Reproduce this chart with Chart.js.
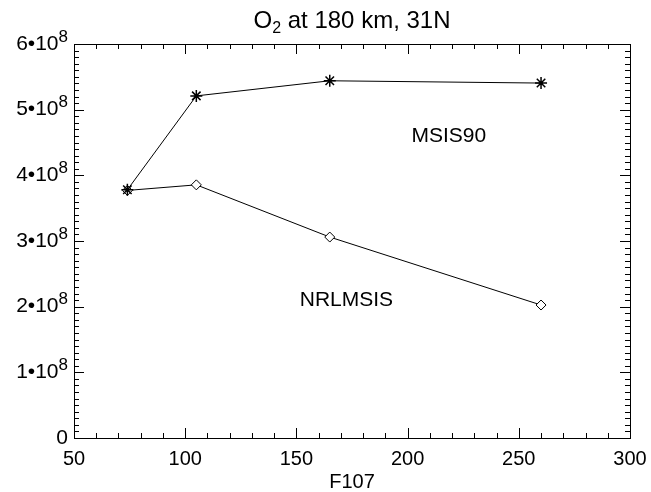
<!DOCTYPE html>
<html>
<head>
<meta charset="utf-8">
<script src="https://cdn.jsdelivr.net/npm/chart.js@4"></script>
<style>
  html, body { margin: 0; padding: 0; background: #fff; }
  #wrap { width: 651px; height: 492px; }
</style>
</head>
<body>
<div id="wrap"><canvas id="o2"></canvas></div>
<script>
// O2 density vs F10.7
var f107 = [74, 105, 165, 260];
var msis90 = [3.78e8, 5.21e8, 5.44e8, 5.405e8];
var nrlmsis = [3.77e8, 3.855e8, 3.06e8, 2.025e8];
var yTickLabels = ["0", "1", "2", "3", "4", "5", "6"];
var notes = [
  { text: "MSIS90", x: 218.5, y: 4.6e8 },
  { text: "NRLMSIS", x: 172.5, y: 2.1e8 },
];

var FONT = "'Liberation Sans', Arial, Helvetica, sans-serif";

// IDL-style frame: inward ticks on all four sides, y labels with superscript, title, notes
var idlAxes = {
  id: "idlAxes",
  afterDraw: function (chart) {
    var ctx = chart.ctx;
    var a = chart.chartArea;
    var xs = chart.scales.x;
    var ys = chart.scales.y;
    ctx.save();
    ctx.strokeStyle = "#000";
    ctx.lineWidth = 1;
    ctx.strokeRect(Math.round(a.left) + 0.5, Math.round(a.top) + 0.5,
      Math.round(a.right - a.left), Math.round(a.bottom - a.top));
    ctx.beginPath();
    xs.ticks.forEach(function (t) {
      var px = Math.round(xs.getPixelForValue(t.value)) + 0.5;
      var len = t.value % 50 === 0 ? 10 : 5;
      ctx.moveTo(px, a.bottom);
      ctx.lineTo(px, a.bottom - len);
      ctx.moveTo(px, a.top);
      ctx.lineTo(px, a.top + len);
    });
    ys.ticks.forEach(function (t) {
      var py = Math.round(ys.getPixelForValue(t.value)) + 0.5;
      var len = Math.round(t.value / 1e7) % 10 === 0 ? 10 : 5;
      ctx.moveTo(a.left, py);
      ctx.lineTo(a.left + len, py);
      ctx.moveTo(a.right, py);
      ctx.lineTo(a.right - len, py);
    });
    ctx.stroke();

    // y labels: n•10^8
    ctx.fillStyle = "#000";
    ctx.textBaseline = "middle";
    yTickLabels.forEach(function (lab, i) {
      var py = ys.getPixelForValue(i * 1e8);
      var right = a.left - 6;
      ctx.textAlign = "right";
      if (i === 0) {
        ctx.font = "21px " + FONT;
        ctx.fillText(lab, right, py);
        return;
      }
      ctx.font = "17px " + FONT;
      var supW = ctx.measureText("8").width;
      ctx.fillText("8", right, py - 7);
      ctx.font = "21px " + FONT;
      ctx.fillText(lab + "\u202210", right - supW, py);
    });

    // title, centred over the plot box, with subscript 2
    var t1 = "O", t2 = "2", t3 = " at 180 km, 31N";
    ctx.textAlign = "left";
    ctx.textBaseline = "alphabetic";
    ctx.font = "24px " + FONT;
    var w1 = ctx.measureText(t1).width, w3 = ctx.measureText(t3).width;
    ctx.font = "16px " + FONT;
    var w2 = ctx.measureText(t2).width;
    var x0 = (a.left + a.right) / 2 - (w1 + w2 + w3) / 2;
    var base = 28;
    ctx.font = "24px " + FONT;
    ctx.fillText(t1, x0, base);
    ctx.fillText(t3, x0 + w1 + w2, base);
    ctx.font = "16px " + FONT;
    ctx.fillText(t2, x0 + w1, base + 5);

    // series notes
    ctx.font = "21px " + FONT;
    ctx.textAlign = "center";
    ctx.textBaseline = "middle";
    notes.forEach(function (n) {
      ctx.fillText(n.text, xs.getPixelForValue(n.x), ys.getPixelForValue(n.y));
    });
    ctx.restore();
  },
};

var ctx = document.getElementById("o2").getContext("2d");
var o2Chart = new Chart(ctx, {
  type: "scatter",
  data: {
    datasets: [
      {
        label: "MSIS90",
        data: f107.map(function (x, i) { return { x: x, y: msis90[i] }; }),
        showLine: true,
        borderColor: "#000",
        borderWidth: 1,
        pointStyle: "star",
        pointRadius: 6,
        pointBorderColor: "#000",
        pointBorderWidth: 1.5,
        pointBackgroundColor: "#000",
      },
      {
        label: "NRLMSIS",
        data: f107.map(function (x, i) { return { x: x, y: nrlmsis[i] }; }),
        showLine: true,
        borderColor: "#000",
        borderWidth: 1,
        pointStyle: "rectRot",
        pointRadius: 5,
        pointBorderColor: "#000",
        pointBorderWidth: 1,
        pointBackgroundColor: "#fff",
      },
    ],
  },
  options: {
    responsive: true,
    maintainAspectRatio: false,
    animation: false,
    layout: { padding: { left: 0, right: 21, top: 44, bottom: 0 } },
    plugins: {
      legend: { display: false },
      tooltip: { enabled: false },
      title: { display: false },
    },
    scales: {
      x: {
        type: "linear",
        min: 50,
        max: 300,
        afterFit: function (s) {
          s.height = 54;
          s.paddingLeft = 0;
          s.paddingRight = 0;
        },
        grid: { display: false, drawTicks: false },
        border: { display: false },
        ticks: {
          stepSize: 10,
          maxTicksLimit: 100,
          autoSkip: false,
          maxRotation: 0,
          padding: 9,
          color: "#000",
          font: { family: FONT, size: 20 },
          callback: function (v) { return v % 50 === 0 ? String(v) : ""; },
        },
        title: {
          display: true,
          text: "F107",
          color: "#000",
          font: { family: FONT, size: 20, lineHeight: 1 },
          padding: { top: 0, bottom: 0 },
        },
      },
      y: {
        min: 0,
        max: 6e8,
        afterFit: function (s) { s.width = 74; },
        grid: { display: false, drawTicks: false },
        border: { display: false },
        ticks: {
          stepSize: 1e7,
          maxTicksLimit: 100,
          autoSkip: false,
          display: false,
        },
      },
    },
  },
  plugins: [idlAxes],
});
</script>
</body>
</html>
